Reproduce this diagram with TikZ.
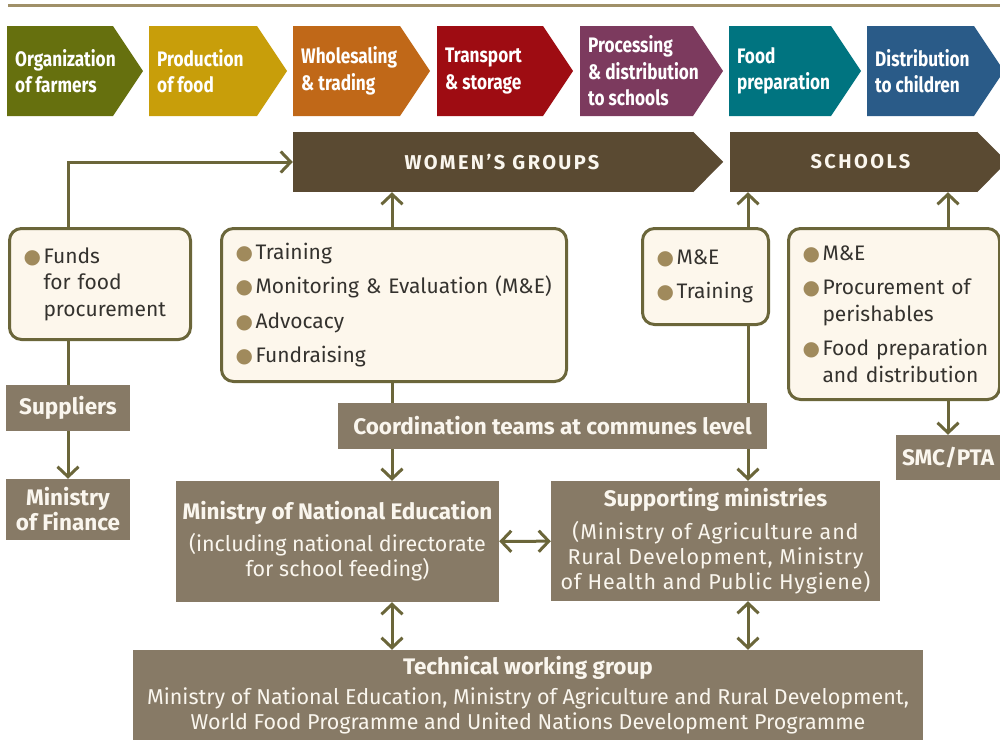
\documentclass[tikz,border=0pt]{standalone}
\usepackage{fontspec}
\setmainfont{Fira Sans}
\newfontfamily\chevfont[FakeStretch=0.82]{Fira Sans}
\newfontfamily\dotfont{DejaVu Sans}
\usetikzlibrary{arrows.meta,positioning,calc}
\definecolor{cgreen}{RGB}{102,112,14}
\definecolor{cyellow}{RGB}{200,158,10}
\definecolor{corange}{RGB}{192,104,24}
\definecolor{cred}{RGB}{158,12,18}
\definecolor{cpurple}{RGB}{124,58,94}
\definecolor{cteal}{RGB}{0,116,128}
\definecolor{cblue}{RGB}{42,91,136}
\definecolor{dbrown}{RGB}{90,74,50}
\definecolor{taupe}{RGB}{135,122,102}
\definecolor{cream}{RGB}{253,247,236}
\definecolor{lineol}{RGB}{107,102,58}
\definecolor{dotcol}{RGB}{160,138,92}
\definecolor{rulecol}{RGB}{160,144,104}
\definecolor{bodytext}{RGB}{52,50,46}
\definecolor{paletext}{RGB}{250,246,238}
\newcommand{\dotitem}{\makebox[20pt][l]{\textcolor{dotcol}{\dotfont\fontsize{20}{20}\selectfont ●}}}
\newcommand{\rg}{\mdseries\fontsize{21.5}{24}\selectfont}
\newcommand{\rgs}{\rg\addfontfeature{LetterSpace=4}}

\begin{document}
\begin{tikzpicture}[x=1pt,y=-1pt,
	>={Straight Barb[length=10pt,width=21pt]},
	conn/.style={draw=lineol,line width=3pt},
	chevtext/.style={anchor=west,align=left,text=white,inner sep=0pt,
		font=\chevfont\bfseries\fontsize{21}{26.5}\selectfont},
	banner/.style={fill=dbrown,text=paletext,inner sep=0pt,minimum height=60,
		font=\bfseries\addfontfeature{LetterSpace=12}\fontsize{20}{24}\selectfont},
	listbox/.style={draw=lineol,line width=3pt,fill=cream,rounded corners=12pt,
		anchor=north west,align=left,text=bodytext,inner xsep=14pt,
		font=\fontsize{21}{26.5}\selectfont},
	orgbox/.style={fill=taupe,text=paletext,inner sep=0pt,align=center,
		font=\bfseries\fontsize{22.5}{25}\selectfont}]
	\useasboundingbox (0,0) rectangle (1000,740);
	\draw[rulecol,line width=3pt] (8,5) -- (1000,5);
	% food chain steps
	\foreach \x/\w/\c/\t [count=\i] in {7/106/cgreen/{Organization\\of farmers},
		149/108/cyellow/{Production\\of food}, 293/107/corange/{Wholesaling\\\& trading},
		437/106/cred/{Transport\\\& storage}, 580/113/cpurple/{Processing\\\& distribution\\to schools},
		729/102/cteal/{Food\\preparation}, 867/107/cblue/{Distribution\\to children}}
	{
		\fill[\c] (\x,26) -- ++(\w,0) -- ++(30,45) -- ++(-30,45) -- ++(-\w,0) -- cycle;
		\node[chevtext] (ch\i) at (\x+8,71) {\t};
	}
	% banners
	\node[banner,minimum width=400] (women) at (493,162) {\hspace*{18pt}WOMEN’S GROUPS};
	\fill[dbrown] (women.north east) -- ++(30,30) -- (women.south east) -- cycle;
	\node[banner,minimum width=247] (schools) at (853.5,162) {\hspace*{14pt}SCHOOLS};
	\fill[dbrown] (schools.north east) -- ++(30,30) -- (schools.south east) -- cycle;
	% list boxes
	\node[listbox,text width=153,minimum height=111] (funds) at (8,227)
		{\dotitem Funds\\\hspace*{20pt}for food\\\hspace*{20pt}procurement};
	\node[listbox,text width=317,minimum height=153] (tasks) at (220,227)
		{\dotitem Training\\[8pt]\dotitem \mbox{Monitoring \& Evaluation (M\&E)}\\[8pt]\dotitem Advocacy\\[8pt]\dotitem Fundraising};
	\node[listbox,text width=98,minimum height=96] (metrain) at (641,227)
		{\dotitem M\&E\\[8pt]\dotitem Training};
	\node[listbox,text width=183,minimum height=171] (sbox) at (787,227)
		{\dotitem M\&E\\[8pt]\dotitem \mbox{Procurement of}\\\hspace*{20pt}perishables\\[8pt]\dotitem \mbox{Food preparation}\\\hspace*{20pt}\mbox{and distribution}};
	% organisations
	\node[orgbox,minimum width=124,minimum height=46] (suppliers) at (68,408) {Suppliers};
	\node[orgbox,minimum width=124,minimum height=61] (finance) at (68,509.5) {Ministry\\of Finance};
	\node[orgbox,minimum width=429,minimum height=46] (coord) at (552.5,426) {Coordination teams at communes level};
	\node[orgbox,minimum width=104,minimum height=45] (smc) at (948,457.5) {SMC/PTA};
	\node[orgbox,minimum width=323,minimum height=121] (mne) at (337.5,541.5)
		{Ministry of National Education\\[7pt]\rg (including national directorate\\\rg for school feeding)};
	\node[orgbox,minimum width=329,minimum height=120] (supp) at (715.5,541)
		{Supporting ministries\\[8pt]\rgs (Ministry of Agriculture and\\\rgs Rural Development, Ministry\\\rgs of Health and Public Hygiene)};
	\node[orgbox,minimum width=790,minimum height=90] (twg) at (528,695)
		{Technical working group\\[5pt]\rg Ministry of National Education, Ministry of Agriculture and Rural Development,\\\rg World Food Programme and United Nations Development Programme};
	% connectors
	\coordinate (lx) at (392,0);
	\coordinate (rx) at (748,0);
	\draw[conn,->] (funds.north -| suppliers) |- (women.west);
	\draw[conn] (funds.south -| suppliers) -- (suppliers.north);
	\draw[conn,->] (suppliers) -- (finance);
	\draw[conn,->] (tasks.north -| lx) -- (women.south -| lx);
	\draw[conn] (tasks.south -| lx) -- (coord.north -| lx);
	\draw[conn,->] (coord.south -| lx) -- (mne.north -| lx);
	\draw[conn,<->] (mne.south -| lx) -- (twg.north -| lx);
	\draw[conn,->] (metrain.north -| rx) -- (schools.south -| rx);
	\draw[conn] (metrain.south -| rx) -- (coord.north -| rx);
	\draw[conn,->] (coord.south -| rx) -- (supp.north -| rx);
	\draw[conn,<->] (supp.south -| rx) -- (twg.north -| rx);
	\draw[conn,<->] (mne) -- (supp);
	\draw[conn,->] (sbox.north -| smc) -- (schools.south -| smc);
	\draw[conn,->] (sbox.south -| smc) -- (smc.north);
\end{tikzpicture}
\end{document}
